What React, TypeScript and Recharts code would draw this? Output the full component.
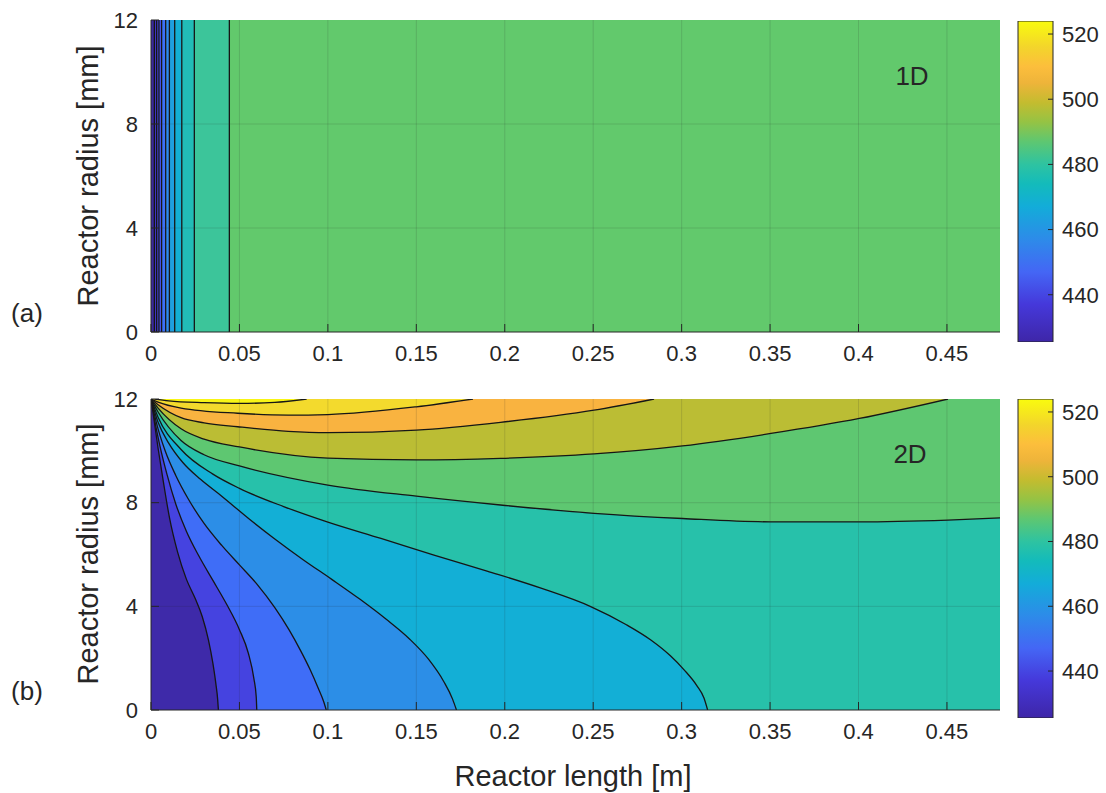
import React from 'react';
import {
  ComposedChart,
  Area,
  XAxis,
  YAxis,
  ReferenceArea,
  ReferenceLine,
} from 'recharts';

const FONT = '"Liberation Sans", Arial, Helvetica, sans-serif';
const INK = '#262626';
const ISO_INK = '#161616';

const X_TICKS = [0, 0.05, 0.1, 0.15, 0.2, 0.25, 0.3, 0.35, 0.4, 0.45];
const Y_TICKS = [0, 4, 8, 12];
const X_MAX = 0.48;
const R_MAX = 12;

const CB_TICKS = [440, 460, 480, 500, 520];
const CB_MIN = 425.5;
const CB_MAX = 524;

// (a) 1D model: contours are vertical, positions along the reactor [m]
const EDGES_1D = [0, 0.0019, 0.0032, 0.0045, 0.006, 0.0083, 0.0104, 0.0134, 0.0174, 0.0245, 0.0443, 0.48];
const FILLS_1D = ['#3b2a9e', '#4033c6', '#4442dc', '#4556ee', '#3d70f6', '#2f89ec', '#1f9fdf', '#13afd3', '#22bcb6', '#3cc59a', '#62c96c'];

// (b) 2D model iso-temperature lines, [length m, radius mm]
const T430: [number, number][] = [[0, 12], [0.0015, 11.3], [0.004, 10.1], [0.007, 8.8], [0.0105, 7.4], [0.015, 6.1], [0.02, 5.05], [0.025, 4.3], [0.029, 3.6], [0.0325, 2.7], [0.035, 1.8], [0.0367, 1.0], [0.0377, 0.4], [0.0381, 0]];
const T440: [number, number][] = [[0, 12], [0.002, 11.2], [0.005, 10.2], [0.009, 9.1], [0.014, 7.95], [0.02, 6.9], [0.027, 5.95], [0.035, 5.0], [0.043, 4.05], [0.05, 3.1], [0.055, 2.2], [0.0582, 1.2], [0.0595, 0.5], [0.0598, 0]];
const T450: [number, number][] = [[0, 12], [0.003, 11.1], [0.008, 10.0], [0.014, 9.05], [0.021, 8.15], [0.03, 7.2], [0.04, 6.35], [0.05, 5.6], [0.06, 4.85], [0.07, 3.95], [0.078, 3.1], [0.0845, 2.3], [0.09, 1.55], [0.0945, 0.85], [0.0975, 0.35], [0.0991, 0]];
const T460: [number, number][] = [[0, 12], [0.004, 11.1], [0.01, 10.3], [0.018, 9.55], [0.028, 8.9], [0.04, 8.25], [0.055, 7.4], [0.07, 6.6], [0.086, 5.8], [0.102, 5.05], [0.118, 4.28], [0.133, 3.5], [0.146, 2.75], [0.157, 1.95], [0.1655, 1.1], [0.1705, 0.42], [0.1727, 0]];
const T470: [number, number][] = [[0, 12], [0.004, 11.3], [0.017, 10.05], [0.035, 9.1], [0.05, 8.55], [0.075, 7.85], [0.1, 7.25], [0.13, 6.62], [0.16, 5.98], [0.19, 5.36], [0.2205, 4.7], [0.2486, 3.99], [0.2685, 3.3], [0.2826, 2.7], [0.2935, 2.1], [0.3014, 1.55], [0.3085, 0.95], [0.3127, 0.45], [0.3147, 0]];
const T480: [number, number][] = [[0, 12], [0.004, 11.5], [0.017, 10.4], [0.03, 9.85], [0.05, 9.42], [0.1, 8.68], [0.15, 8.25], [0.1976, 7.91], [0.2505, 7.59], [0.3005, 7.39], [0.3505, 7.26], [0.4005, 7.26], [0.4505, 7.33], [0.48, 7.41]];
const T490: [number, number][] = [[0, 12], [0.004, 11.65], [0.017, 10.85], [0.03, 10.45], [0.05, 10.15], [0.1, 9.72], [0.15, 9.65], [0.1976, 9.71], [0.2505, 9.88], [0.3005, 10.19], [0.3505, 10.67], [0.4005, 11.25], [0.4506, 12]];
const T500: [number, number][] = [[0, 12], [0.004, 11.78], [0.017, 11.28], [0.03, 11.08], [0.049, 10.93], [0.0776, 10.75], [0.1, 10.7], [0.15, 10.8], [0.1976, 11.1], [0.2505, 11.57], [0.2844, 12]];
const T510: [number, number][] = [[0, 12], [0.004, 11.88], [0.017, 11.65], [0.049, 11.45], [0.0776, 11.38], [0.1, 11.4], [0.15, 11.7], [0.182, 12]];
const T520: [number, number][] = [[0.002, 12], [0.01, 11.93], [0.03, 11.86], [0.05, 11.83], [0.07, 11.87], [0.088, 12]];
const FULL_2D: [number, number][] = [[0, 12], [0.48, 12]];

// colormap stops for the colour bar (value -> colour)
const CB_STOPS: [number, string][] = [
  [425.5, '#3e26a8'], [437, '#4538da'], [447, '#4466f5'], [457, '#2d8be9'],
  [467, '#13acd9'], [474, '#13bbbb'], [480, '#2ec3a1'], [487, '#5ec771'],
  [493, '#95c344'], [499, '#c4bc2f'], [505, '#eeb43a'], [510, '#fcbe3c'],
  [516, '#f3d52b'], [524, '#f9fb0e'],
];
const CB_SPAN = [{ x: 0 }, { x: 1 }];

const toPts = (pts: [number, number][]) => pts.map(([x, r]) => ({ x, r }));

// painted from the outermost band inwards; below = filled to r=0, above = filled to r=12
const BELOW = [
  { name: 'T480', pts: T480, fill: '#27c1aa' },
  { name: 'T470', pts: T470, fill: '#13afd6' },
  { name: 'T460', pts: T460, fill: '#2c8ee7' },
  { name: 'T450', pts: T450, fill: '#3f6df7' },
  { name: 'T440', pts: T440, fill: '#4543e0' },
  { name: 'T430', pts: T430, fill: '#3e2aa9' },
];
const ABOVE = [
  { name: 'T490', pts: T490, fill: '#bbbd34' },
  { name: 'T500', pts: T500, fill: '#f9b340' },
  { name: 'T510', pts: T510, fill: '#f3da2d' },
  { name: 'T520', pts: T520, fill: '#f8f516' },
];

const tickFont = { fontSize: 22, fill: INK, fontFamily: FONT };
const lineStyle = { stroke: INK, strokeWidth: 1 };

const frame = () => [
  <XAxis key="xb" type="number" dataKey="x" domain={[0, X_MAX]} allowDataOverflow ticks={X_TICKS}
    interval={0} tickSize={-8} tickMargin={21} height={40} tick={tickFont}
    axisLine={lineStyle} tickLine={lineStyle} />,
  <XAxis key="xt" xAxisId="top" orientation="top" type="number" dataKey="x" domain={[0, X_MAX]}
    allowDataOverflow ticks={X_TICKS} interval={0} tickSize={-8} height={0} tick={false}
    axisLine={lineStyle} tickLine={lineStyle} />,
  <YAxis key="yl" type="number" domain={[0, R_MAX]} allowDataOverflow ticks={Y_TICKS} interval={0}
    tickSize={-8} tickMargin={21} width={60} tick={tickFont} axisLine={lineStyle} tickLine={lineStyle} />,
  <YAxis key="yr" yAxisId="right" orientation="right" type="number" domain={[0, R_MAX]}
    allowDataOverflow ticks={Y_TICKS} interval={0} tickSize={-8} width={0} tick={false}
    axisLine={lineStyle} tickLine={lineStyle} />,
];

const grid = () => [
  ...X_TICKS.slice(1).map((v) => (
    <ReferenceLine key={'gx' + v} x={v} stroke={INK} strokeOpacity={0.15} />
  )),
  ...Y_TICKS.slice(1, 3).map((v) => (
    <ReferenceLine key={'gy' + v} y={v} stroke={INK} strokeOpacity={0.15} />
  )),
];

const Colorbar = ({ id, top, height }: { id: string; top: number; height: number }) => (
  <div style={{ position: 'absolute', left: 1000, top }}>
    <ComposedChart width={106} height={height} data={CB_SPAN}
      margin={{ top: 0, right: 0, bottom: 0, left: 18 }}>
      <defs>
        <linearGradient id={id} x1="0" y1="1" x2="0" y2="0">
          {CB_STOPS.map(([v, c]) => (
            <stop key={v} offset={(v - CB_MIN) / (CB_MAX - CB_MIN)} stopColor={c} />
          ))}
        </linearGradient>
      </defs>
      <XAxis type="number" dataKey="x" domain={[0, 1]} allowDataOverflow height={0}
        tick={false} axisLine={false} tickLine={false} />
      <YAxis orientation="right" type="number" domain={[CB_MIN, CB_MAX]} allowDataOverflow
        ticks={CB_TICKS} interval={0} tickSize={-5} tickMargin={14} width={53}
        tick={tickFont} axisLine={false} tickLine={lineStyle} />
      <ReferenceArea x1={0} x2={1} y1={CB_MIN} y2={CB_MAX} fill={`url(#${id})`} fillOpacity={1}
        stroke={INK} strokeWidth={1} ifOverflow="visible" />
    </ComposedChart>
  </div>
);

const Label = ({ x, y, size, rotate, children }: any) => (
  <div
    style={{
      position: 'absolute',
      left: x,
      top: y,
      transform: `translate(-50%, -50%)${rotate ? ' rotate(-90deg)' : ''}`,
      fontFamily: FONT,
      fontSize: size,
      color: INK,
      whiteSpace: 'nowrap',
      lineHeight: 1,
    }}
  >
    {children}
  </div>
);

const Panel1D = () => (
  <div style={{ position: 'absolute', left: 0, top: 0 }}>
    <ComposedChart width={1010} height={380} margin={{ top: 20, right: 10, bottom: 8, left: 91 }}>
      {frame()}
      {FILLS_1D.map((c, i) => (
        <ReferenceArea key={'band' + i} x1={EDGES_1D[i]} x2={EDGES_1D[i + 1]} y1={0} y2={R_MAX}
          fill={c} fillOpacity={1} stroke="none" />
      ))}
      {EDGES_1D.slice(1, -1).map((e) => (
        <ReferenceLine key={'iso' + e} x={e} stroke={ISO_INK} strokeWidth={1.3} />
      ))}
      {grid()}
    </ComposedChart>
  </div>
);

const Panel2D = () => (
  <div style={{ position: 'absolute', left: 0, top: 379 }}>
    <ComposedChart width={1010} height={380} margin={{ top: 20, right: 10, bottom: 9, left: 91 }}>
      {frame()}
      <Area data={toPts(FULL_2D)} dataKey="r" type="linear" baseValue={0} fill="#5ec771"
        fillOpacity={1} stroke="none" dot={false} activeDot={false} isAnimationActive={false} />
      {BELOW.map((c) => (
        <Area key={c.name} data={toPts(c.pts)} dataKey="r" type="monotone" baseValue={0}
          fill={c.fill} fillOpacity={1} stroke={ISO_INK} strokeWidth={1.3} dot={false}
          activeDot={false} isAnimationActive={false} />
      ))}
      {ABOVE.map((c) => (
        <Area key={c.name} data={toPts(c.pts)} dataKey="r" type="monotone" baseValue={R_MAX}
          fill={c.fill} fillOpacity={1} stroke={ISO_INK} strokeWidth={1.3} dot={false}
          activeDot={false} isAnimationActive={false} />
      ))}
      {grid()}
    </ComposedChart>
  </div>
);

export default function App() {
  return (
    <div style={{ position: 'absolute', left: 0, top: 0, width: 1106, height: 793, background: '#fff' }}>
      <Panel1D />
      <Panel2D />
      <Colorbar id="cbA" top={20.5} height={321} />
      <Colorbar id="cbB" top={399} height={319} />
      <Label x={912} y={76} size={26}>1D</Label>
      <Label x={910} y={454} size={26}>2D</Label>
      <Label x={27} y={313} size={26}>(a)</Label>
      <Label x={27} y={691} size={26}>(b)</Label>
      <Label x={88} y={176} size={29} rotate>Reactor radius [mm]</Label>
      <Label x={88} y={554} size={29} rotate>Reactor radius [mm]</Label>
      <Label x={573} y={776} size={29}>Reactor length [m]</Label>
    </div>
  );
}
